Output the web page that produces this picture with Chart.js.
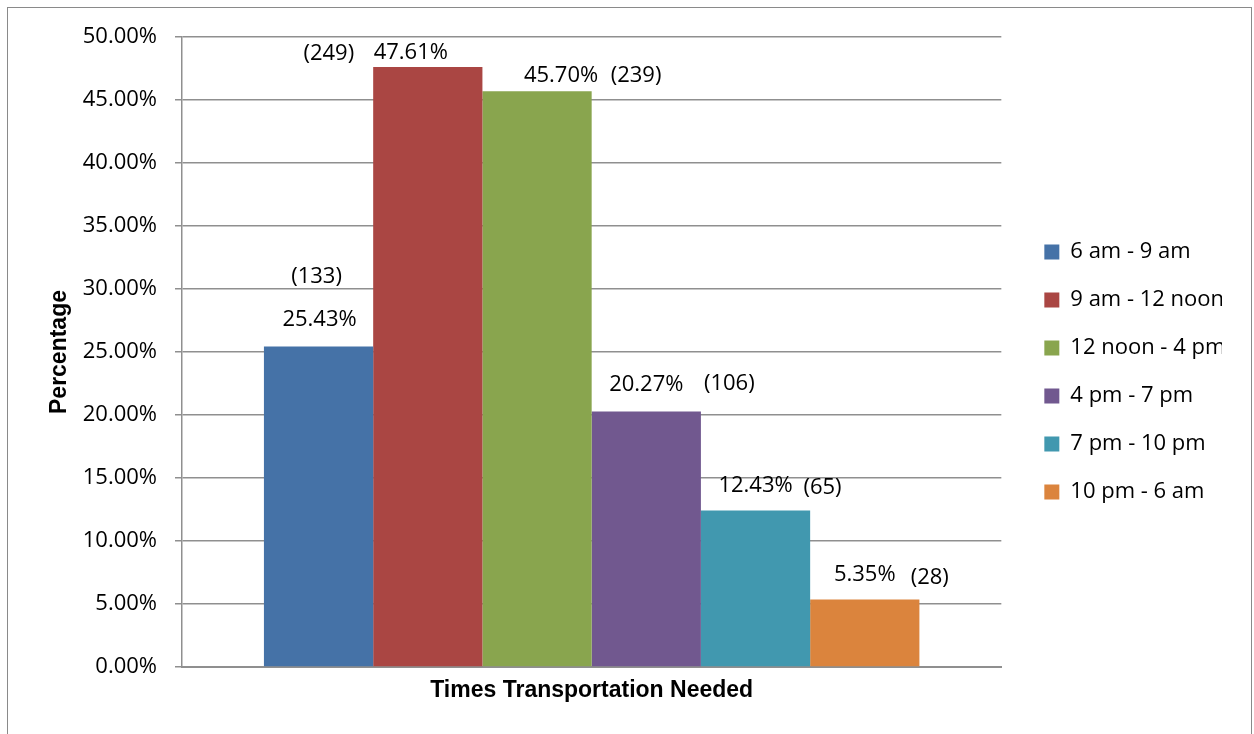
<!DOCTYPE html>
<html>
<head>
<meta charset="utf-8">
<title>Times Transportation Needed</title>
<script src="https://cdn.jsdelivr.net/npm/chart.js@4"></script>
<style>
  html, body { margin: 0; padding: 0; background: #ffffff; }
  #wrap { position: absolute; left: 0; top: 0; width: 1254px; height: 734px; }
</style>
</head>
<body>
<div id="wrap"><canvas id="chart" width="1254" height="734"></canvas></div>
<script>
// Time-of-day bands and the share / number of respondents needing transport in each
const categories = ['Times Transportation Needed'];
const seriesNames = ['6 am - 9 am', '9 am - 12 noon', '12 noon - 4 pm', '4 pm - 7 pm', '7 pm - 10 pm', '10 pm - 6 am'];
const percentages = [25.43, 47.61, 45.70, 20.27, 12.43, 5.35];
const counts = [133, 249, 239, 106, 65, 28];
const yTickValues = [0, 5, 10, 15, 20, 25, 30, 35, 40, 45, 50];
const yTickLabels = ['0.00%', '5.00%', '10.00%', '15.00%', '20.00%', '25.00%', '30.00%', '35.00%', '40.00%', '45.00%', '50.00%'];

// Styling
const seriesColors = ['#4572A7', '#AA4643', '#89A54E', '#71588F', '#4198AF', '#DB843D'];
// Where each bar's two labels sit, relative to the bar's top centre: [dx, dy]
const labelPlacement = [
  { pct: [1, -27],   count: [-2, -70] },
  { pct: [-17, -14], count: [-99, -13] },
  { pct: [24, -15],  count: [99, -15] },
  { pct: [0, -27],   count: [83, -28] },
  { pct: [0, -25],   count: [67, -23] },
  { pct: [0, -25],   count: [65, -22] }
];
const textFont = '"Open Sans", sans-serif';
const boldFont = '"Liberation Sans", Arial, sans-serif';
const gridColor = '#8f8f8f';

const frame = {
  id: 'frame',
  beforeDraw(chart) {
    const ctx = chart.ctx;
    ctx.save();
    ctx.fillStyle = '#ffffff';
    ctx.fillRect(0, 0, chart.width, chart.height);
    ctx.strokeStyle = '#8a8a8a';
    ctx.lineWidth = 1;
    ctx.strokeRect(7.5, 7.5, 1244, 800);
    ctx.restore();
  }
};

const barLabels = {
  id: 'barLabels',
  afterDatasetsDraw(chart) {
    const ctx = chart.ctx;
    ctx.save();
    ctx.font = '22px ' + textFont;
    ctx.fillStyle = '#000000';
    ctx.textAlign = 'center';
    ctx.textBaseline = 'middle';
    chart.data.datasets.forEach((ds, i) => {
      const bar = chart.getDatasetMeta(i).data[0];
      const p = labelPlacement[i];
      ctx.fillText(percentages[i].toFixed(2) + '%', bar.x + p.pct[0], bar.y + p.pct[1]);
      ctx.fillText('(' + counts[i] + ')', bar.x + p.count[0], bar.y + p.count[1]);
    });
    ctx.restore();
  }
};

const datasets = seriesNames.map((name, i) => ({
  label: name,
  data: [percentages[i]],
  backgroundColor: seriesColors[i],
  borderWidth: 0,
  categoryPercentage: 0.8,
  barPercentage: 1.0
}));

new Chart(document.getElementById('chart'), {
  type: 'bar',
  data: { labels: categories, datasets: datasets },
  plugins: [frame, barLabels],
  options: {
    responsive: false,
    animation: false,
    layout: { padding: { left: 0, right: 32, top: 37, bottom: 27 } },
    plugins: {
      tooltip: { enabled: false },
      legend: {
        position: 'right',
        align: 'center',
        labels: {
          boxWidth: 15,
          boxHeight: 15,
          padding: 26,
          color: '#000000',
          font: { family: textFont, size: 22 }
        }
      }
    },
    scales: {
      x: {
        type: 'category',
        grid: { display: false },
        border: { display: true, color: gridColor, width: 2 },
        ticks: { display: false },
        title: {
          display: true,
          text: categories[0],
          color: '#000000',
          font: { family: boldFont, size: 23, weight: 'bold' },
          padding: { top: 0, bottom: 3 }
        },
        afterFit(s) { s.height = 40; }
      },
      y: {
        type: 'linear',
        min: 0,
        max: 50,
        afterBuildTicks(s) { s.ticks = yTickValues.map(v => ({ value: v })); },
        ticks: {
          color: '#000000',
          padding: 18,
          font: { family: textFont, size: 22 },
          callback: (v, idx) => yTickLabels[idx]
        },
        grid: { color: gridColor, lineWidth: 1.5, tickLength: 7, drawTicks: true },
        border: { display: true, color: gridColor, width: 1.5 },
        title: {
          display: true,
          text: 'Percentage',
          color: '#000000',
          font: { family: boldFont, size: 23, weight: 'bold' },
          padding: { top: 46, bottom: 0 }
        },
        afterFit(s) { s.width = 182; }
      },
      gap: {
        type: 'linear',
        position: 'right',
        display: true,
        grid: { display: false, drawTicks: false },
        border: { display: false },
        ticks: { display: false },
        afterFit(s) { s.width = 17; }
      }
    }
  }
});
</script>
</body>
</html>
